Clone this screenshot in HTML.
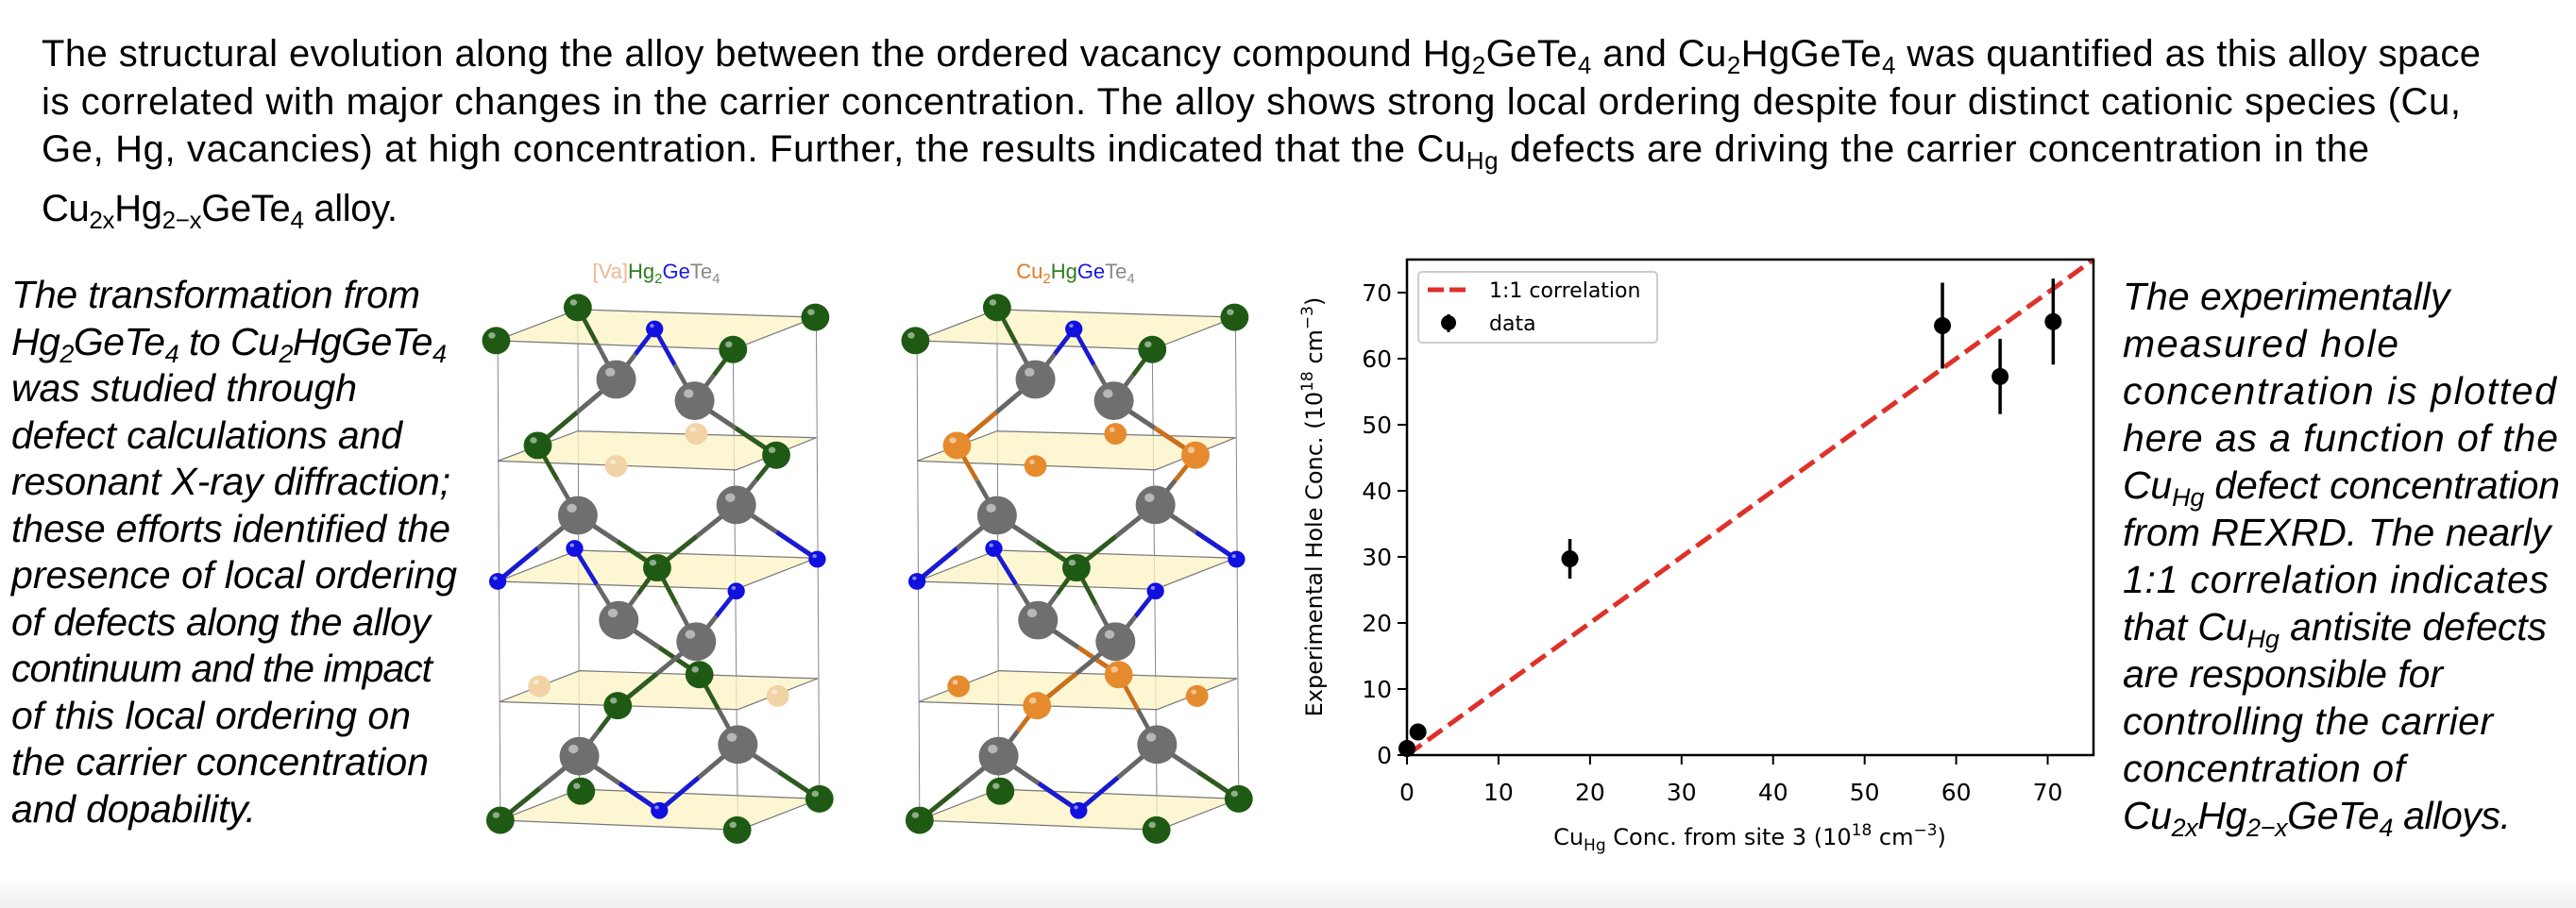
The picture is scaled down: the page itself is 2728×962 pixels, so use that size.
<!DOCTYPE html>
<html><head><meta charset="utf-8">
<style>
html,body{margin:0;padding:0;background:#fff;}
body{width:2728px;height:962px;overflow:hidden;position:relative;font-family:"Liberation Sans",Arial,sans-serif;}
#page{position:absolute;left:0;top:0;}
#foot{position:absolute;left:0;top:930px;width:2728px;height:32px;background:linear-gradient(#fff,#f0f0f0);}
</style></head>
<body>
<div id="foot"></div>
<svg id="page" width="2728" height="962" viewBox="0 0 2728 962" xmlns="http://www.w3.org/2000/svg">
<g font-family="Liberation Sans, Arial, sans-serif" font-size="40" fill="#000">
<text x="44" y="70" textLength="2583">The structural evolution along the alloy between the ordered vacancy compound Hg<tspan font-size="26" dy="8">2</tspan><tspan dy="-8">GeTe</tspan><tspan font-size="26" dy="8">4</tspan><tspan dy="-8"> and Cu</tspan><tspan font-size="26" dy="8">2</tspan><tspan dy="-8">HgGeTe</tspan><tspan font-size="26" dy="8">4</tspan><tspan dy="-8"> was quantified as this alloy space</tspan></text>
<text x="44" y="121" textLength="2562">is correlated with major changes in the carrier concentration. The alloy shows strong local ordering despite four distinct cationic species (Cu,</text>
<text x="44" y="171" textLength="2465">Ge, Hg, vacancies) at high concentration. Further, the results indicated that the Cu<tspan font-size="26" dy="8">Hg</tspan><tspan dy="-8"> defects are driving the carrier concentration in the</tspan></text>
<text x="44" y="234" textLength="377">Cu<tspan font-size="26" dy="8">2x</tspan><tspan dy="-8">Hg</tspan><tspan font-size="26" dy="8">2−x</tspan><tspan dy="-8">GeTe</tspan><tspan font-size="26" dy="8">4</tspan><tspan dy="-8"> alloy.</tspan></text>
</g>
<g font-family="Liberation Sans, Arial, sans-serif" font-size="41" font-style="italic" fill="#000">
<text x="12" y="326" textLength="433">The transformation from</text>
<text x="12" y="376" textLength="461">Hg<tspan font-size="27" dy="8">2</tspan><tspan dy="-8">GeTe</tspan><tspan font-size="27" dy="8">4</tspan><tspan dy="-8"> to Cu</tspan><tspan font-size="27" dy="8">2</tspan><tspan dy="-8">HgGeTe</tspan><tspan font-size="27" dy="8">4</tspan></text>
<text x="12" y="425" textLength="366">was studied through</text>
<text x="12" y="475" textLength="414">defect calculations and</text>
<text x="12" y="524" textLength="465">resonant X-ray diffraction;</text>
<text x="12" y="574" textLength="465">these efforts identified the</text>
<text x="12" y="623" textLength="472">presence of local ordering</text>
<text x="12" y="673" textLength="444">of defects along the alloy</text>
<text x="12" y="722" textLength="446">continuum and the impact</text>
<text x="12" y="772" textLength="423">of this local ordering on</text>
<text x="12" y="821" textLength="442">the carrier concentration</text>
<text x="12" y="871" textLength="259">and dopability.</text>
</g>
<g font-family="Liberation Sans, Arial, sans-serif" font-size="41" font-style="italic" fill="#000">
<text x="2248" y="328">The experimentally</text>
<text x="2248" y="378" textLength="292">measured hole</text>
<text x="2248" y="428" textLength="459">concentration is plotted</text>
<text x="2248" y="478" textLength="461">here as a function of the</text>
<text x="2248" y="528" textLength="463">Cu<tspan font-size="27" dy="8">Hg</tspan><tspan dy="-8"> defect concentration</tspan></text>
<text x="2248" y="578">from REXRD. The nearly</text>
<text x="2248" y="628" textLength="451">1:1 correlation indicates</text>
<text x="2248" y="678" textLength="449">that Cu<tspan font-size="27" dy="8">Hg</tspan><tspan dy="-8"> antisite defects</tspan></text>
<text x="2248" y="728" textLength="339">are responsible for</text>
<text x="2248" y="778" textLength="392">controlling the carrier</text>
<text x="2248" y="828" textLength="299">concentration of</text>
<text x="2248" y="878" textLength="411">Cu<tspan font-size="27" dy="8">2x</tspan><tspan dy="-8">Hg</tspan><tspan font-size="27" dy="8">2−x</tspan><tspan dy="-8">GeTe</tspan><tspan font-size="27" dy="8">4</tspan><tspan dy="-8"> alloys.</tspan></text>
</g>
<g id="structA"></g>
<g id="structB"></g>
<text x="695" y="295" text-anchor="middle" font-family="Liberation Sans, Arial, sans-serif" font-size="22"><tspan fill="#f0b890">[Va]</tspan><tspan fill="#2e7d1e">Hg</tspan><tspan fill="#2e7d1e" font-size="15" dy="5">2</tspan><tspan fill="#1a1ae0" dy="-5">Ge</tspan><tspan fill="#888">Te</tspan><tspan fill="#888" font-size="15" dy="5">4</tspan></text>
<text x="1139" y="295" text-anchor="middle" font-family="Liberation Sans, Arial, sans-serif" font-size="22"><tspan fill="#e07a20">Cu</tspan><tspan fill="#e07a20" font-size="15" dy="5">2</tspan><tspan fill="#2e7d1e" dy="-5">Hg</tspan><tspan fill="#1a1ae0">Ge</tspan><tspan fill="#888">Te</tspan><tspan fill="#888" font-size="15" dy="5">4</tspan></text>
<g id="chart"></g>
</svg>
<script>
// ---- chart data ----
const xValues = [0, 1.2, 17.8, 58.5, 64.8, 70.6];
const yValues = [1.0, 3.5, 29.7, 65.0, 57.3, 65.6];
const yErrors = [0, 0, 3.0, 6.5, 5.7, 6.5];
const xTicks = [0, 10, 20, 30, 40, 50, 60, 70];
const yTicks = [0, 10, 20, 30, 40, 50, 60, 70];
const lineRange = [0, 75];

const NS = 'http://www.w3.org/2000/svg';
function mk(tag, attrs, parent){const e=document.createElementNS(NS,tag);for(const k in attrs)e.setAttribute(k,attrs[k]);parent.appendChild(e);return e;}

const PL=1490, PR=2217, PT=275, PB=800, XMIN=0, XMAX=75, YMIN=0, YMAX=75;
const sx = v => PL + (v - XMIN) / (XMAX - XMIN) * (PR - PL);
const sy = v => PB - (v - YMIN) / (YMAX - YMIN) * (PB - PT);
const chart = document.getElementById('chart');
const F = 'DejaVu Sans, sans-serif';

const ln = mk('line',{x1:sx(lineRange[0]),y1:sy(lineRange[0]),x2:sx(lineRange[1]),y2:sy(lineRange[1]),stroke:'#e0302a','stroke-width':5,'stroke-dasharray':'19,8'},chart);



xValues.forEach((xv,i)=>{
  const g = mk('g',{},chart);
  
  
  if (yErrors[i] > 0) mk('line',{x1:sx(xv),x2:sx(xv),y1:sy(yValues[i]-yErrors[i]),y2:sy(yValues[i]+yErrors[i]),stroke:'#000','stroke-width':3.5},g);
  mk('circle',{cx:sx(xv),cy:sy(yValues[i]),r:9,fill:'#000'},g);
});

const fr = mk('rect',{x:PL,y:PT,width:PR-PL,height:PB-PT,fill:'none',stroke:'#000','stroke-width':2.5},chart);



xTicks.forEach(t=>{
  mk('line',{x1:sx(t),x2:sx(t),y1:PB,y2:PB+10,stroke:'#000','stroke-width':2},chart);
  const tx = mk('text',{x:sx(t),y:PB+48,'text-anchor':'middle','font-family':F,'font-size':25,fill:'#000'},chart);
  tx.textContent = t;
  
  
});
yTicks.forEach(t=>{
  mk('line',{x1:PL-10,x2:PL,y1:sy(t),y2:sy(t),stroke:'#000','stroke-width':2},chart);
  const tx = mk('text',{x:PL-16,y:sy(t)+9,'text-anchor':'end','font-family':F,'font-size':25,fill:'#000'},chart);
  tx.textContent = t;
  
  
});

const xt = mk('text',{x:1853,y:895,'text-anchor':'middle','font-family':F,'font-size':24,fill:'#000'},chart);
xt.innerHTML = 'Cu<tspan font-size="17" dy="6">Hg</tspan><tspan dy="-6"> Conc. from site 3 (10</tspan><tspan font-size="17" dy="-10">18</tspan><tspan dy="10"> cm</tspan><tspan font-size="17" dy="-10">−3</tspan><tspan dy="10">)</tspan>';


const yt = mk('text',{x:0,y:0,'text-anchor':'middle','font-family':F,'font-size':24,fill:'#000',transform:'translate(1400 537) rotate(-90)'},chart);
yt.innerHTML = 'Experimental Hole Conc. (10<tspan font-size="17" dy="-10">18</tspan><tspan dy="10"> cm</tspan><tspan font-size="17" dy="-10">−3</tspan><tspan dy="10">)</tspan>';



const lg = mk('g',{},chart);


mk('rect',{x:1502,y:288,width:253,height:75,rx:4,fill:'#fff',stroke:'#ccc','stroke-width':2},lg);
mk('line',{x1:1512,x2:1558,y1:307,y2:307,stroke:'#e0302a','stroke-width':5,'stroke-dasharray':'17,6'},lg);
const l1 = mk('text',{x:1577,y:315,'font-family':F,'font-size':22,fill:'#000'},lg); l1.textContent='1:1 correlation';


mk('line',{x1:1534,x2:1534,y1:333,y2:352,stroke:'#000','stroke-width':3},lg);
mk('circle',{cx:1534,cy:342,r:8,fill:'#000'},lg);
const l2 = mk('text',{x:1577,y:350,'font-family':F,'font-size':22,fill:'#000'},lg); l2.textContent='data';



// ---- crystal structures (illustration) ----
const planes=[[[75,245],[330,165],[1075,185],[815,268]],[[80,555],[330,478],[1075,495],[825,578]],[[80,865],[330,785],[1075,805],[825,885]],[[85,1175],[335,1095],[1080,1115],[830,1195]],[[85,1480],[335,1400],[1085,1425],[835,1505]]];
const greens=[[75,245],[330,160],[1072,185],[815,268],[205,515],[950,540],[578,830],[710,1105],[455,1185],[340,1405],[88,1480],[1085,1425],[828,1505]];
const blues=[[570,215],[320,780],[80,865],[1078,808],[825,890],[585,1455]];
const grays=[[450,345],[695,400],[330,695],[825,668],[458,965],[700,1020],[335,1315],[830,1285]];
const tans=[[700,485],[450,568],[210,1135],[955,1160]];
const bonds=[[0,[330,160]],[0,[570,215]],[0,[205,515]],[1,[570,215]],[1,[815,268]],[1,[950,540]],[2,[205,515]],[2,[80,865]],[2,[578,830]],[3,[950,540]],[3,[1078,808]],[3,[578,830]],[4,[320,780]],[4,[578,830]],[4,[710,1105]],[5,[825,890]],[5,[578,830]],[5,[455,1185]],[6,[455,1185]],[6,[88,1480]],[6,[585,1455]],[7,[710,1105]],[7,[1085,1425]],[7,[585,1455]]];
function drawStruct(id, ox, cuVersion){
  const root=document.getElementById(id);
  const g=mk('g',{transform:`translate(${ox} 260) scale(${1/2.95} ${1/2.43})`},root);
  [[80,245,88,1480],[330,160,335,1405],[815,268,830,1505],[1075,185,1085,1425]].forEach(v=>mk('line',{x1:v[0],y1:v[1],x2:v[2],y2:v[3],stroke:'#888','stroke-width':3},g));
  planes.forEach(p=>mk('polygon',{points:p.map(q=>q.join(',')).join(' '),fill:'#fbf3c4','fill-opacity':0.75,stroke:'#777','stroke-width':3},g));
  const isMid=(a)=>(a[1]>450&&a[1]<600)||(a[1]>1080&&a[1]<1200);
  bonds.forEach(b=>{const a=grays[b[0]];const t=b[1];
    const mx=(a[0]+t[0])/2,my=(a[1]+t[1])/2;
    let c='#2f5a1f'; if(blues.some(q=>q[0]===t[0]&&q[1]===t[1]))c='#1a1ad0'; else if(cuVersion&&isMid(t))c='#c8701c';
    mk('line',{x1:a[0],y1:a[1],x2:mx,y2:my,stroke:'#666','stroke-width':13},g);
    mk('line',{x1:mx,y1:my,x2:t[0],y2:t[1],stroke:c,'stroke-width':13},g);});
  const ball=(p,r,c)=>{mk('ellipse',{cx:p[0],cy:p[1],rx:r,ry:r*0.8,fill:c},g);mk('ellipse',{cx:p[0]-r*0.3,cy:p[1]-r*0.3,rx:r*0.25,ry:r*0.18,fill:'#fff','fill-opacity':0.5},g);};
  greens.forEach(p=>ball(p,44,(cuVersion&&isMid(p))?'#e68a2e':'#1f5a14'));
  tans.forEach(p=>ball(p,35,cuVersion?'#e68a2e':'#f1d3a5'));
  blues.forEach(p=>ball(p,27,'#1010e0'));
  grays.forEach(p=>ball(p,62,'#6f6f6f'));
}
drawStruct('structA',500,false);
drawStruct('structB',944,true);
</script>
</body></html>
